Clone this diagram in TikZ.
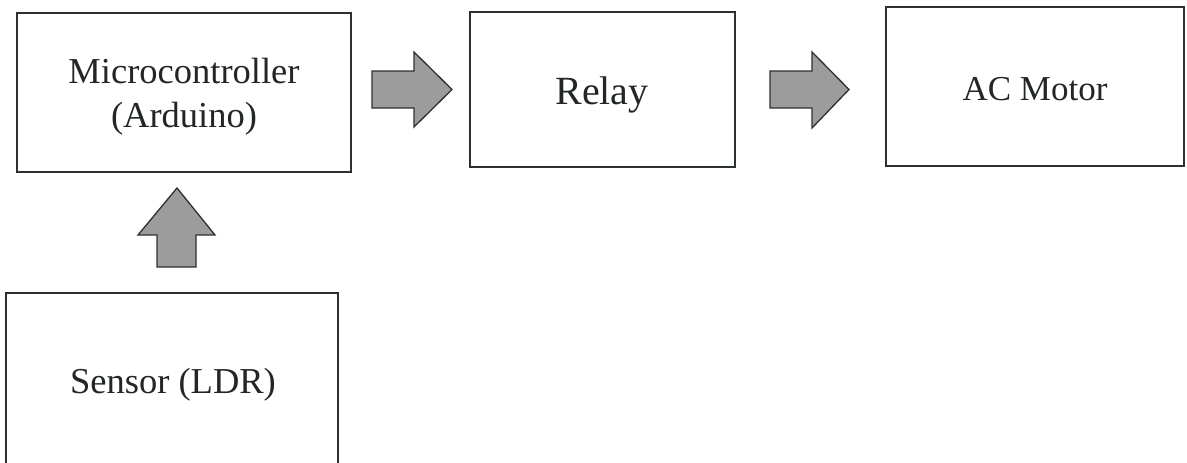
\documentclass[tikz,border=0pt]{standalone}
\usepackage{fontspec}
\setmainfont{Liberation Serif}
\definecolor{edge}{HTML}{2B3131}
\definecolor{ink}{HTML}{222626}
\definecolor{arrowfill}{HTML}{9C9C9C}
\begin{document}
\begin{tikzpicture}[x=1pt,y=-1pt,
  block/.style={draw=edge, line width=1.6pt, rectangle, inner sep=0pt},
  label/.style={text=ink, anchor=base, inner sep=0pt},
  blockarrow/.style={draw=edge, line width=1.3pt, fill=arrowfill, line join=miter}]
  \useasboundingbox (0,0) rectangle (1187,463);
  \clip (0,0) rectangle (1187,463);

  % blocks
  \node[block, minimum width=334pt, minimum height=159pt] (mcu) at (184,92.5) {};
  \node[block, minimum width=265pt, minimum height=155pt] (relay) at (602.5,89.5) {};
  \node[block, minimum width=298pt, minimum height=159pt] (motor) at (1035,86.5) {};
  \node[block, minimum width=332pt, minimum height=220pt] (ldr) at (172,403) {};

  % labels
  \node[label, font=\fontsize{36.5}{40}\selectfont] (mcuA) at (184,83) {Microcontroller};
  \node[label, font=\fontsize{36.5}{40}\selectfont] (mcuB) at (184,127) {(Arduino)};
  \node[label, font=\fontsize{40}{44}\selectfont] (relayT) at (602,104) {Relay};
  \node[label, font=\fontsize{35}{40}\selectfont] (motorT) at (1035,100) {AC Motor};
  \node[label, font=\fontsize{36.5}{40}\selectfont] (ldrT) at (173,393) {Sensor (LDR)};

  % block arrows between the stages
  \draw[blockarrow] (372,71) -- (414,71) -- (414,52) -- (452,89.5) -- (414,127)
    -- (414,108) -- (372,108) -- cycle;
  \draw[blockarrow] (770,71) -- (812,71) -- (812,52) -- (849,89.5) -- (812,128)
    -- (812,108) -- (770,108) -- cycle;
  \draw[blockarrow] (157,267) -- (157,235) -- (138,235) -- (177,188) -- (215,235)
    -- (196,235) -- (196,267) -- cycle;
\end{tikzpicture}
\end{document}
